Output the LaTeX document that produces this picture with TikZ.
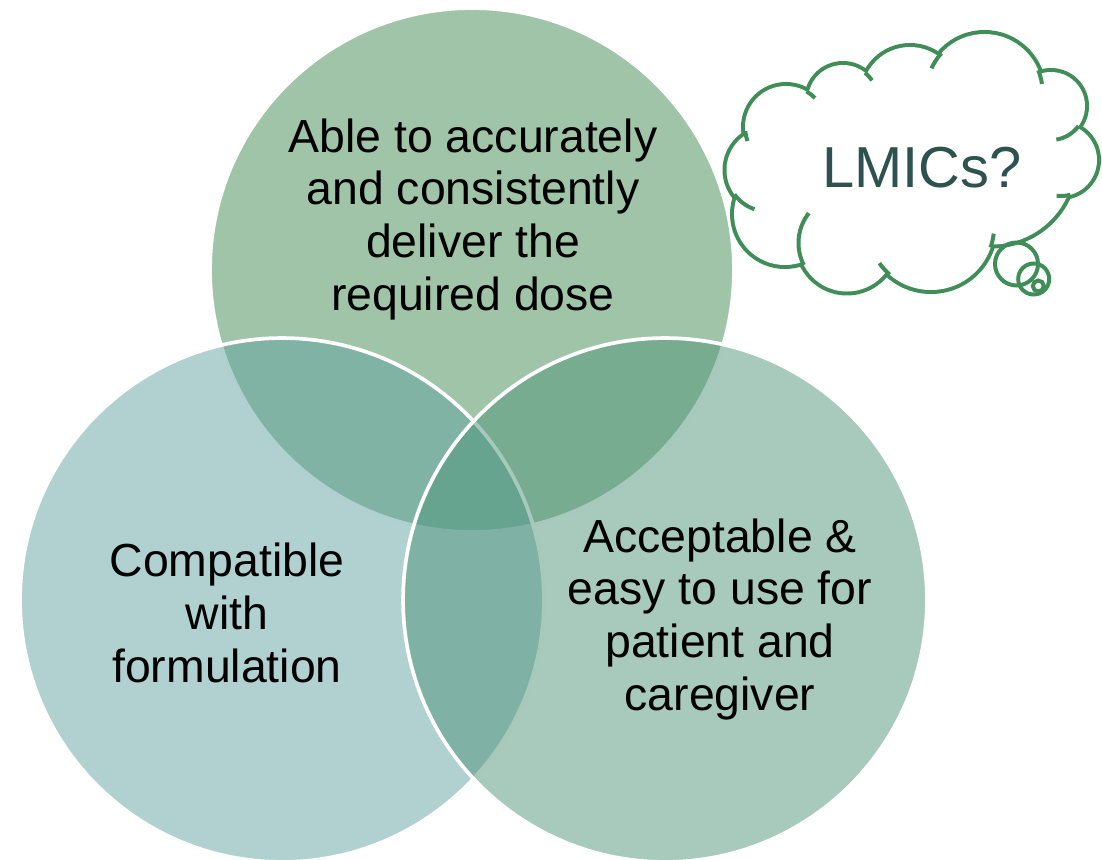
\documentclass[tikz,border=0pt]{standalone}
\usepackage{fontspec}
\setmainfont{Liberation Sans}
\definecolor{dosegreen}{RGB}{65,137,81}
\definecolor{formteal}{RGB}{99,163,163}
\definecolor{usegreen}{RGB}{79,149,121}
\definecolor{cloudgreen}{RGB}{63,141,87}
\definecolor{lmicink}{RGB}{46,82,78}

\begin{document}
\begin{tikzpicture}[x=0.02cm,y=0.02cm]
\tikzstyle{venn}=[circle,draw=white,line width=2.1pt,minimum size=10.48cm,inner sep=0pt,fill opacity=0.5]
\tikzstyle{venntext}=[align=center,anchor=base,font=\fontsize{26.4}{29.9}\selectfont]
\tikzstyle{puff}=[cloudgreen,line width=2.27pt]
\useasboundingbox (0,0) rectangle (1102,-859);
\clip (0,0) rectangle (1102,-859);
\node[venn,fill=dosegreen] (dose) at (472,-270) {};
\node[venn,fill=formteal] (form) at (282,-600) {};
\node[venn,fill=usegreen] (use) at (665,-600) {};
\node[venntext] (dosetext) at (473,-310) {Able to accurately\\and consistently\\deliver the\\required dose};
\node[venntext] (formtext) at (227,-682) {Compatible\\with\\formulation};
\node[venntext] (usetext) at (720,-710) {Acceptable \&\\easy to use for\\patient and\\caregiver};
% thought cloud: rings first, white body over their inner halves
\foreach \cx/\cy/\r in {786/127/41,843/100/35,910/95/48,984.5/92/58,1051/106/34,1061/160/36,992/162/82.5,931/227/63,847/243/48.5,785/214/51,768/170/41.5}
  \draw[cloudgreen,line width=4.54pt] (\cx,-\cy) circle[radius=\r];
\fill[white] (786,-127) -- (843,-100) -- (910,-95) -- (984.5,-92) -- (1051,-106) -- (1061,-160)
  -- (992,-162) -- (931,-227) -- (847,-243) -- (785,-214) -- (768,-170) -- cycle;
\foreach \cx/\cy/\r in {786/127/41,843/100/35,910/95/48,984.5/92/58,1051/106/34,1061/160/36,992/162/82.5,931/227/63,847/243/48.5,785/214/51,768/170/41.5}
  \fill[white] (\cx,-\cy) circle[radius=\r];
% inner ends of the puffs
\foreach \cx/\cy/\r/\a/\b in {786/127/41/186/200,786/127/41/60/45,843/100/35/51/34,984.5/92/58/138/156,984.5/92/58/22/8,1051/106/34/-36/-81,1061/160/36/-75/-97,931/227/63/-19/-6,931/227/63/229/215,847/243/48.5/207/142,768/170/41.5/216/251}
  \draw[puff] (\cx,-\cy) ++(\a:\r) arc[start angle=\a,end angle=\b,radius=\r];
\draw[puff] (1016.5,-264) circle[radius=21.5];
\draw[puff] (1033.7,-279) circle[radius=15.5];
\draw[puff] (1038.3,-286) circle[radius=5.5];
\node[anchor=base,text=lmicink,font=\fontsize{32.9}{36}\selectfont] (lmics) at (922,-187) {LMICs?};
\end{tikzpicture}
\end{document}
